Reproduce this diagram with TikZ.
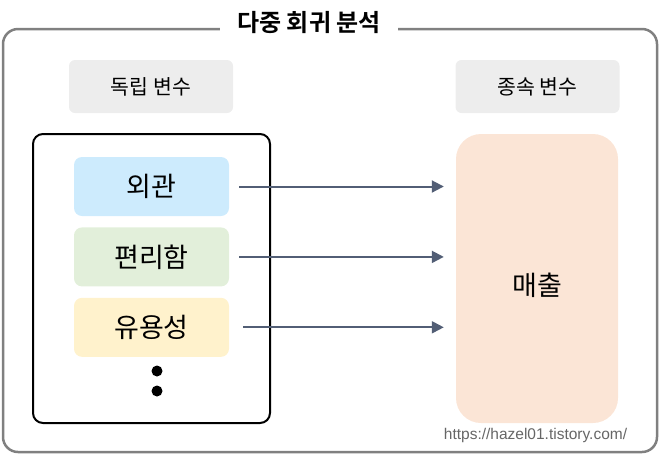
\documentclass[tikz,border=0pt]{standalone}
\usepackage{fontspec}
\setmainfont{Noto Sans CJK KR}[BoldFont={Noto Sans CJK KR Bold}]
\newfontfamily\urlfont{Liberation Sans}
\usetikzlibrary{positioning,arrows.meta}
\definecolor{framegray}{HTML}{808080}
\definecolor{urlgray}{HTML}{666666}
\definecolor{labgray}{HTML}{EDEDED}
\definecolor{cblue}{HTML}{CDEBFD}
\definecolor{cgreen}{HTML}{E2EFDA}
\definecolor{cyellow}{HTML}{FFF2CC}
\definecolor{corange}{HTML}{FBE5D6}
\definecolor{arrcol}{HTML}{525E75}
\tikzset{lab/.style={fill=labgray,rounded corners=6pt,minimum width=164pt,minimum height=53pt,font=\fontsize{20.5}{22}\selectfont}}
\tikzset{var/.style={rounded corners=8pt,minimum width=155pt,minimum height=59pt,font=\fontsize{27}{29}\selectfont}}
\tikzset{arr/.style={draw=arrcol,line width=2pt,-{Triangle[length=12pt,width=12pt]}}}
\begin{document}
\begin{tikzpicture}[x=1pt,y=-1pt]
    \useasboundingbox (0,0) rectangle (660,456);
    % outer frame
    \draw[framegray,line width=2.5pt,rounded corners=15pt] (3,29) rectangle (657,452);
    \node[fill=white,inner xsep=17pt,inner ysep=2pt,font=\bfseries\fontsize{24}{26}\selectfont] (title) at (309,23) {다중 회귀 분석};
    % labels
    \node[lab] (indep) at (151,86.5) {독립 변수};
    \node[lab] (dep) at (537.5,86.5) {종속 변수};
    % left box
    \draw[line width=2pt,rounded corners=10pt] (33,134) rectangle (270,423);
    \node[var,fill=cblue] (f1) at (151.5,186.5) {외관};
    \node[var,fill=cgreen,below=11pt of f1] (f2) {편리함};
    \node[var,fill=cyellow,below=11pt of f2] (f3) {유용성};
    \fill (157,371) circle (5.5pt) (157,391) circle (5.5pt);
    % target
    \node[fill=corange,rounded corners=25pt,minimum width=162pt,minimum height=289pt,text height=38pt,text depth=4pt,font=\fontsize{27}{29}\selectfont] (sales) at (537,278.5) {매출};
    % arrows
    \draw[arr] ([xshift=10pt]f1.east) -- ([xshift=-12pt]f1.east -| sales.west);
    \draw[arr] ([xshift=10pt]f2.east) -- ([xshift=-12pt]f2.east -| sales.west);
    \draw[arr] ([xshift=14pt]f3.east) -- ([xshift=-12pt]f3.east -| sales.west);
    \node[text=urlgray,font=\urlfont\fontsize{15.5}{17}\selectfont] (url) at (535.5,435) {https://hazel01.tistory.com/};
\end{tikzpicture}
\end{document}
